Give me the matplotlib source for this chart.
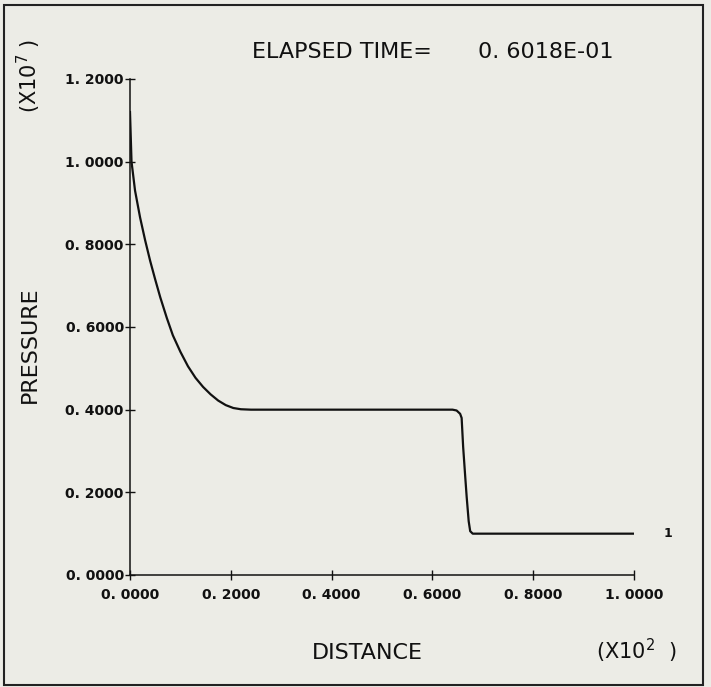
import matplotlib.pyplot as plt
from matplotlib.patches import Rectangle

# pressure profile (distance in units of 1e2, pressure in units of 1e7)
distance = [0.0, 0.003, 0.01, 0.02, 0.03, 0.04, 0.05, 0.06, 0.073, 0.085, 0.10,
            0.115, 0.13, 0.145, 0.16, 0.175, 0.19, 0.205, 0.22, 0.24, 0.30, 0.40,
            0.50, 0.60, 0.640, 0.648, 0.655, 0.658, 0.661, 0.665, 0.668, 0.672,
            0.675, 0.680, 0.70, 0.80, 0.90, 1.0]
pressure = [1.12, 1.0, 0.93, 0.865, 0.81, 0.76, 0.715, 0.672, 0.622, 0.58, 0.54,
            0.505, 0.477, 0.455, 0.437, 0.422, 0.411, 0.404, 0.401, 0.40, 0.40, 0.40,
            0.40, 0.40, 0.40, 0.398, 0.39, 0.38, 0.31, 0.24, 0.189, 0.13,
            0.106, 0.10, 0.10, 0.10, 0.10, 0.10]

x_ticks = [0.0, 0.2, 0.4, 0.6, 0.8, 1.0]
x_tick_labels = ["0. 0000", "0. 2000", "0. 4000", "0. 6000", "0. 8000", "1. 0000"]
y_ticks = [0.0, 0.2, 0.4, 0.6, 0.8, 1.0, 1.2]
y_tick_labels = ["0. 0000", "0. 2000", "0. 4000", "0. 6000", "0. 8000", "1. 0000", "1. 2000"]

bg = "#ecece6"
W, H = 711, 687

fig = plt.figure(figsize=(7.11, 6.87), dpi=100, facecolor=bg)
ax = fig.add_axes([130 / W, 1 - 575 / H, 504 / W, 496 / H], facecolor=bg)

ax.plot(distance, pressure, color="#111111", linewidth=1.6)
ax.text(distance[-1] + 0.068, pressure[-1], "1", fontsize=9, fontweight="bold",
        ha="center", va="center", color="#111111")

ax.set_xlim(0, 1.0)
ax.set_ylim(0, 1.2)
ax.set_xticks(x_ticks)
ax.set_xticklabels(x_tick_labels)
ax.set_yticks(y_ticks)
ax.set_yticklabels(y_tick_labels)
for s in ["top", "right"]:
    ax.spines[s].set_visible(False)
for s in ["left", "bottom"]:
    ax.spines[s].set_linewidth(1.1)
    ax.spines[s].set_color("#111111")
ax.tick_params(direction="inout", length=7, width=1.0, colors="#111111",
               labelsize=10, pad=1)
for lbl in ax.get_xticklabels() + ax.get_yticklabels():
    lbl.set_fontfamily("DejaVu Sans")
    lbl.set_fontweight("bold")
ax.tick_params(axis="x", pad=6)

# labels and annotations placed in figure pixels
txt = dict(color="#111111", fontfamily="DejaVu Sans")
fig.text(252 / W, 1 - 52 / H, "ELAPSED TIME=", fontsize=16, ha="left", va="center", **txt)
fig.text(478 / W, 1 - 52 / H, "0. 6018E-01", fontsize=16, ha="left", va="center", **txt)
fig.text(30 / W, 1 - 345 / H, "PRESSURE", fontsize=16, rotation=90, ha="center", va="center", **txt)
fig.text(29 / W, 1 - 76 / H, r"(X10$^{7}$ )", fontsize=15, rotation=90, ha="center", va="center", **txt)
fig.text(367 / W, 1 - 653 / H, "DISTANCE", fontsize=16, ha="center", va="center", **txt)
fig.text(636 / W, 1 - 651 / H, r"(X10$^{2}$  )", fontsize=15, ha="center", va="center", **txt)

# outer frame of the plotter page
fig.patches.append(Rectangle((4 / W, 1 - 685 / H), 699 / W, 680 / H, transform=fig.transFigure,
                             fill=False, edgecolor="#222222", linewidth=1.5))

fig.savefig("out.png", dpi=100, facecolor=bg)
